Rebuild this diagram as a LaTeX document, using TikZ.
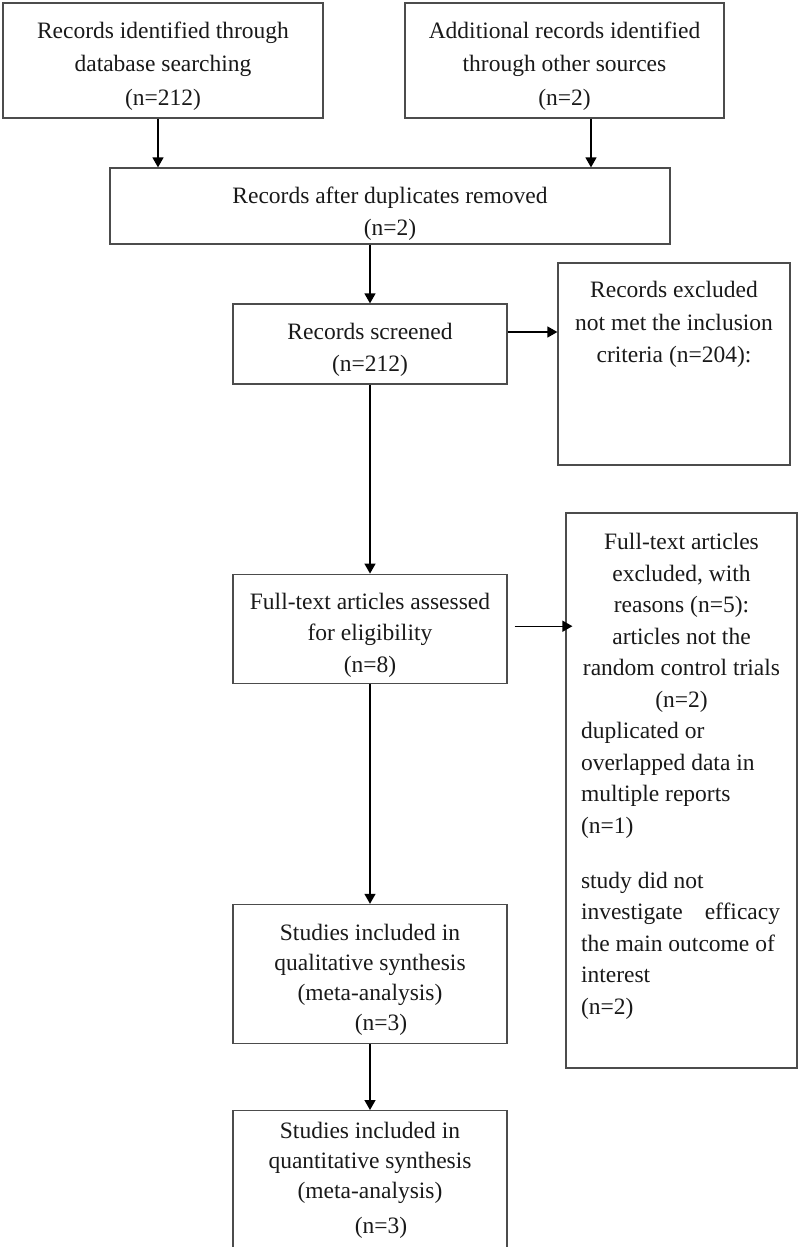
\documentclass[tikz,border=0pt]{standalone}
\usepackage{fontspec}
\setmainfont{Liberation Serif}
\usetikzlibrary{positioning,arrows.meta}

\begin{document}
\begin{tikzpicture}
            [x=1pt, y=1pt,
             box/.style = {draw=black!70, line width=1.2pt, inner sep=0pt},
             txt/.style = {inner sep=0pt, align=center, font=\fontsize{23.5}{31.5}\selectfont, text=black!90},
             arr/.style = {line width=1.4pt, -{Triangle[length=10pt,width=11pt]}}]
            \useasboundingbox (0,0) rectangle (800,-1247);
            % boxes
            \node[box, minimum width=320pt, minimum height=115pt] (db) at (163,-60.5) {};
            \node[box, minimum width=319pt, minimum height=115pt] (other) at (564.5,-60.5) {};
            \node[box, minimum width=560pt, minimum height=76pt] (dup) at (390,-206) {};
            \node[box, minimum width=274pt, minimum height=80pt] (screened) at (370,-344) {};
            \node[box, minimum width=232pt, minimum height=202pt] (excl) at (674,-364) {};
            \node[box, minimum width=274pt, minimum height=109pt] (fulltext) [below=189pt of screened] {};
            \node[box, minimum width=231pt, minimum height=555pt] (reasons) at (681.5,-790.5) {};
            \node[box, minimum width=274pt, minimum height=139pt] (qual) [below=220pt of fulltext] {};
            \node[box, minimum width=274pt, minimum height=138pt] (quant) [below=66pt of qual] {};
            % texts
            \node[txt, font=\fontsize{23.5}{33.5}\selectfont] (dbtext) [below=19pt of db.north]
                {Records identified through\\database searching\\(n=212)};
            \node[txt, font=\fontsize{23.5}{33.5}\selectfont] (othertext) [below=19pt of other.north]
                {Additional records identified\\through other sources\\(n=2)};
            \node[txt, font=\fontsize{23.5}{32}\selectfont] (duptext) [below=19pt of dup.north]
                {Records after duplicates removed\\(n=2)};
            \node[txt, font=\fontsize{23.5}{32}\selectfont] (screenedtext) [below=20pt of screened.north]
                {Records screened\\(n=212)};
            \node[txt, font=\fontsize{23.5}{32.5}\selectfont] (excltext) [below=19pt of excl.north]
                {Records excluded\\not met the inclusion\\criteria (n=204):};
            \node[txt] (fulltexttext) [below=19pt of fulltext.north]
                {Full-text articles assessed\\for eligibility\\(n=8)};
            \node[txt, align=none, text width=201pt] (reasonstext) [below=21pt of reasons.north]
                {\parindent=0pt\raggedright
                 {\centering Full-text articles\\excluded, with\\reasons (n=5):\\articles not the\\\makebox[\linewidth]{random control trials}\\(n=2)\par}
                 duplicated or\\overlapped data in\\multiple reports\\(n=1)\\[23.5pt]
                 study did not\\\makebox[199pt][s]{investigate efficacy}\\
                 the main outcome of\\interest\\(n=2)\par};
            \node[txt, font=\fontsize{23.5}{30}\selectfont] (qualtext) [below=20pt of qual.north]
                {Studies included in\\qualitative synthesis\\(meta-analysis)\\\hspace*{22pt}(n=3)};
            \node[txt, font=\fontsize{23.5}{30}\selectfont] (quanttext) [below=12pt of quant.north]
                {Studies included in\\quantitative synthesis\\(meta-analysis)\\[5pt]\hspace*{22pt}(n=3)};
            % arrows
            \draw[arr] ([xshift=-5pt]db.south) -- ([xshift=-5pt]db.south |- dup.north);
            \draw[arr] ([xshift=26.5pt]other.south) -- ([xshift=26.5pt]other.south |- dup.north);
            \draw[arr] (screened.north |- dup.south) -- (screened.north);
            \draw[arr] ([yshift=12pt]screened.east) -- ([yshift=12pt]screened.east -| excl.west);
            \draw[arr] (screened) -- (fulltext);
            \draw[arr] ([xshift=7pt, yshift=2.5pt]fulltext.east) -- ([xshift=7pt, yshift=2.5pt]fulltext.east -| reasons.west);
            \draw[arr] (fulltext) -- (qual);
            \draw[arr] (qual) -- (quant);
        \end{tikzpicture}
\end{document}
